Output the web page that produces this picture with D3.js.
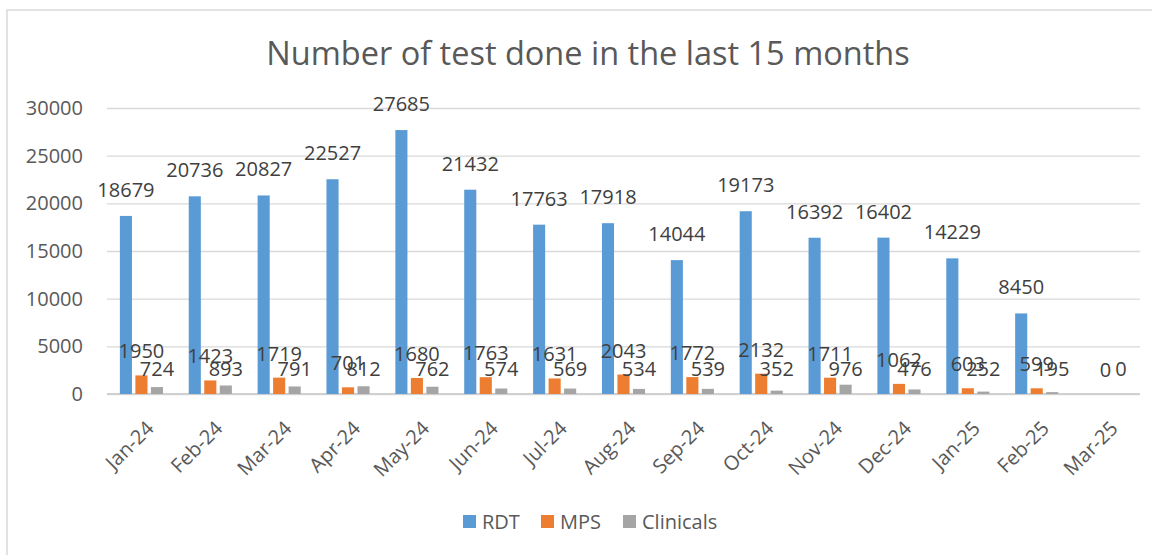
<!DOCTYPE html>
<html>
<head>
<meta charset="utf-8">
<script src="https://cdn.jsdelivr.net/npm/d3@7"></script>
<style>
  body { margin: 0; background: #fff; }
  svg text { font-family: "Open Sans", sans-serif; }
</style>
</head>
<body>
<div id="chart"></div>
<script>
const months = ['Jan-24', 'Feb-24', 'Mar-24', 'Apr-24', 'May-24', 'Jun-24', 'Jul-24', 'Aug-24',
  'Sep-24', 'Oct-24', 'Nov-24', 'Dec-24', 'Jan-25', 'Feb-25', 'Mar-25'];
const seriesNames = ['RDT', 'MPS', 'Clinicals'];
const rdt = [18679, 20736, 20827, 22527, 27685, 21432, 17763, 17918, 14044, 19173, 16392, 16402, 14229, 8450, 0];
const mps = [1950, 1423, 1719, 701, 1680, 1763, 1631, 2043, 1772, 2132, 1711, 1062, 603, 599, 0];
const clinicals = [724, 893, 791, 812, 762, 574, 569, 534, 539, 352, 976, 476, 252, 195, 0];
const yTicks = [0, 5000, 10000, 15000, 20000, 25000, 30000];

const width = 1152, height = 555;
const margin = [108, 12, 161, 107]; // top, right, bottom, left
const colors = { RDT: '#5b9bd5', MPS: '#ed7d31', Clinicals: '#a5a5a5' };

const values = { RDT: rdt, MPS: mps, Clinicals: clinicals };
const rows = months.map((m, i) => ({
  month: m,
  items: seriesNames.map(s => ({ series: s, value: values[s][i], month: m }))
}));

const svg = d3.select('#chart').append('svg')
  .attr('width', width)
  .attr('height', height);

// outer chart border (cut off at right/bottom in the source)
svg.append('rect')
  .attr('x', 7).attr('y', 10)
  .attr('width', width + 10).attr('height', height + 10)
  .attr('fill', 'none')
  .attr('stroke', '#d9d9d9')
  .attr('stroke-width', 1.5);

const chartW = width - margin[3] - margin[1];
const chartH = height - margin[0] - margin[2];

const chart = svg.append('g')
  .attr('transform', `translate(${margin[3]},${margin[0]})`);

const x0 = d3.scaleBand().domain(months).range([0, chartW])
  .paddingInner(0.374).paddingOuter(0.187);
const x1 = d3.scaleBand().domain(seriesNames).range([0, x0.bandwidth()])
  .paddingInner(0.22);
const y = d3.scaleLinear().domain([0, 30000]).range([chartH, 0]);

// label position above each bar (Excel nudges the small clinicals labels)
const labelY = d => {
  if (d.series === 'RDT') return y(d.value) - 19;
  if (d.series === 'MPS') return y(d.value) - 17;
  return Math.min(y(d.value) - 9, chartH - 18);
};

// gridlines + y labels
const axisY = chart.append('g')
  .call(d3.axisLeft(y).tickValues(yTicks).tickSize(-chartW).tickPadding(24).tickFormat(d3.format('d')));
axisY.select('.domain').remove();
axisY.selectAll('.tick line').attr('stroke', '#d9d9d9').attr('stroke-width', 1.3);
axisY.selectAll('.tick text')
  .attr('fill', '#595959')
  .style('font-size', '20px');

// baseline
chart.append('line')
  .attr('x1', 0).attr('x2', chartW)
  .attr('y1', y(0)).attr('y2', y(0))
  .attr('stroke', '#d0d0d0').attr('stroke-width', 2);

// x labels
const axisX = chart.append('g')
  .attr('transform', `translate(0,${chartH})`)
  .call(d3.axisBottom(x0).tickSize(0).tickPadding(0));
axisX.select('.domain').remove();
axisX.selectAll('.tick text')
  .attr('fill', '#595959')
  .style('font-size', '20px')
  .attr('text-anchor', 'end')
  .attr('y', null)
  .attr('transform', 'translate(3,25) rotate(-45)')
  .attr('dy', '0.75em');

// bars
const groups = chart.selectAll('.grp')
  .data(rows)
  .join('g')
  .attr('class', 'grp')
  .attr('transform', d => `translate(${x0(d.month)},0)`);

groups.selectAll('rect')
  .data(d => d.items)
  .join('rect')
  .attr('x', d => x1(d.series))
  .attr('width', x1.bandwidth())
  .attr('y', d => y(d.value))
  .attr('height', d => chartH - y(d.value))
  .attr('fill', d => colors[d.series]);

// data labels (the RDT zero label is not shown in the source)
groups.selectAll('text.lbl')
  .data(d => d.items.filter(it => !(it.series === 'RDT' && it.value === 0)))
  .join('text')
  .attr('class', 'lbl')
  .attr('x', d => x1(d.series) + x1.bandwidth() / 2)
  .attr('y', labelY)
  .attr('text-anchor', 'middle')
  .attr('fill', '#404040')
  .style('font-size', '20px')
  .text(d => d.value);

// title
svg.append('text')
  .attr('x', 588).attr('y', 65)
  .attr('text-anchor', 'middle')
  .attr('fill', '#595959')
  .style('font-size', '32.5px')
  .text('Number of test done in the last 15 months');

// legend
const legendItems = [
  { name: 'RDT', x: 463 },
  { name: 'MPS', x: 541 },
  { name: 'Clinicals', x: 623 }
];
const legend = svg.append('g');
const li = legend.selectAll('g').data(legendItems).join('g')
  .attr('transform', d => `translate(${d.x},515)`);
li.append('rect')
  .attr('width', 13).attr('height', 13)
  .attr('fill', d => colors[d.name]);
li.append('text')
  .attr('x', 19).attr('y', 6.5)
  .attr('dy', '0.36em')
  .attr('fill', '#595959')
  .style('font-size', '20px')
  .text(d => d.name);
</script>
</body>
</html>
